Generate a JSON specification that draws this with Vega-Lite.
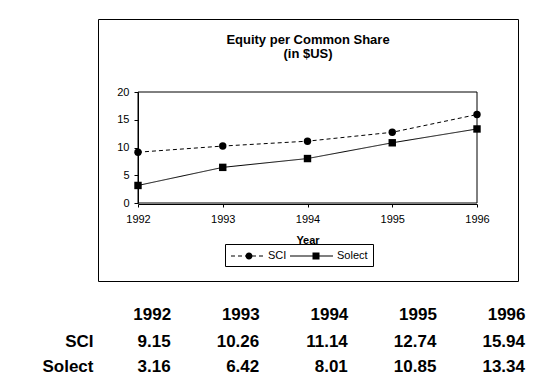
{
  "$schema": "https://vega.github.io/schema/vega-lite/v6.json",
  "background": "white",
  "padding": {"left": 41, "top": 18, "right": 5, "bottom": 0},
  "spacing": 23,
  "datasets": {
    "equity": [
      {"year": 1992, "series": "SCI", "value": 9.15},
      {"year": 1993, "series": "SCI", "value": 10.26},
      {"year": 1994, "series": "SCI", "value": 11.14},
      {"year": 1995, "series": "SCI", "value": 12.74},
      {"year": 1996, "series": "SCI", "value": 15.94},
      {"year": 1992, "series": "Solect", "value": 3.16},
      {"year": 1993, "series": "Solect", "value": 6.42},
      {"year": 1994, "series": "Solect", "value": 8.01},
      {"year": 1995, "series": "Solect", "value": 10.85},
      {"year": 1996, "series": "Solect", "value": 13.34}
    ]
  },
  "vconcat": [
    {
      "width": 420,
      "height": 262,
      "view": {"stroke": "black", "strokeWidth": 1, "fill": "white"},
      "title": {
        "text": ["Equity per Common Share", "(in $US)"],
        "anchor": "middle",
        "frame": "group",
        "offset": -42,
        "font": "Liberation Sans",
        "fontSize": 13,
        "fontWeight": "bold",
        "color": "black",
        "lineHeight": 14
      },
      "data": {"name": "equity"},
      "encoding": {
        "x": {
          "field": "year",
          "type": "quantitative",
          "scale": {"domain": [1992, 1996], "range": [40, 379]},
          "axis": {
            "orient": "bottom",
            "offset": -77,
            "values": [1992, 1993, 1994, 1995, 1996],
            "format": "d",
            "labelFlush": false,
            "labelOverlap": false,
            "tickSize": 3,
            "labelPadding": 6,
            "labelFont": "Liberation Sans",
            "labelFontSize": 11,
            "labelColor": "black",
            "tickColor": "black",
            "domainColor": "black",
            "grid": false,
            "title": "Year",
            "titleFont": "Liberation Sans",
            "titleFontSize": 11,
            "titleFontWeight": "bold",
            "titleColor": "black",
            "titlePadding": 10
          }
        },
        "y": {
          "field": "value",
          "type": "quantitative",
          "scale": {"domain": [0, 20], "range": [184, 73]},
          "axis": {
            "orient": "left",
            "offset": -40,
            "values": [0, 5, 10, 15, 20],
            "tickSize": 4,
            "labelPadding": 5,
            "labelFont": "Liberation Sans",
            "labelFontSize": 11,
            "labelColor": "black",
            "tickColor": "black",
            "domainColor": "black",
            "grid": false,
            "title": null
          }
        }
      },
      "layer": [
        {
          "data": {"values": [{"year": 1992, "year2": 1996, "value": 0, "value2": 20}]},
          "mark": {"type": "rect", "filled": false, "color": "black", "stroke": "black", "strokeWidth": 1},
          "encoding": {
            "x2": {"field": "year2"},
            "y2": {"field": "value2"}
          }
        },
        {
          "mark": {"type": "line", "color": "black", "strokeWidth": 1},
          "encoding": {
            "strokeDash": {
              "field": "series",
              "type": "nominal",
              "scale": {"domain": ["SCI", "Solect"], "range": [[4, 3], [1, 0]]},
              "legend": null
            }
          }
        },
        {
          "mark": {"type": "point", "filled": true, "color": "black", "size": 55, "opacity": 1},
          "encoding": {
            "shape": {
              "field": "series",
              "type": "nominal",
              "scale": {"domain": ["SCI", "Solect"], "range": ["circle", "square"]},
              "legend": null
            }
          }
        },
        {
          "transform": [{"filter": "false"}],
          "mark": {"type": "point", "filled": true, "color": "black", "opacity": 1},
          "encoding": {
            "shape": {
              "field": "series",
              "type": "nominal",
              "scale": {
                "domain": ["SCI", "Solect"],
                "range": [
                  "M-0.857,-0.071H-0.286V0.071H-0.857ZM0.143,-0.071H0.714V0.071H0.143ZM1.143,-0.071H1.714V0.071H1.143ZM2.143,-0.071H2.714V0.071H2.143ZM3.143,-0.071H3.714V0.071H3.143ZM1.214,0A0.5,0.5 0 1,1 2.214,0A0.5,0.5 0 1,1 1.214,0Z",
                  "M-2.286,-0.071H3.857V0.071H-2.286ZM0.929,-0.5H1.929V0.5H0.929Z"
                ]
              },
              "legend": {
                "orient": "none",
                "legendX": 127,
                "legendY": 225,
                "direction": "horizontal",
                "columns": 2,
                "gridAlign": "none",
                "title": null,
                "padding": 5,
                "strokeColor": "black",
                "fillColor": "white",
                "symbolSize": 196,
                "symbolFillColor": "black",
                "symbolStrokeColor": "black",
                "symbolStrokeWidth": 0,
                "symbolOpacity": 1,
                "labelOffset": 24,
                "columnPadding": 2,
                "rowPadding": 0,
                "labelFont": "Liberation Sans",
                "labelFontSize": 11,
                "labelColor": "black",
                "encode": {
                  "symbols": {
                    "update": {
                      "fill": {"value": "black"},
                      "fillOpacity": {"value": 1},
                      "strokeWidth": {"value": 0},
                      "opacity": {"value": 1}
                    }
                  }
                }
              }
            }
          }
        }
      ],
      "resolve": {"scale": {"shape": "independent"}}
    },
    {
      "width": 427,
      "height": 50,
      "view": {"stroke": null},
      "data": {"name": "equity"},
      "mark": {
        "type": "text",
        "align": "right",
        "baseline": "middle",
        "font": "Liberation Sans",
        "fontSize": 17,
        "fontWeight": "bold",
        "color": "black"
      },
      "encoding": {
        "x": {
          "field": "year",
          "type": "ordinal",
          "scale": {"type": "point", "padding": 0.41, "align": 1},
          "axis": {
            "orient": "top",
            "domain": false,
            "ticks": false,
            "tickSize": 0,
            "labelAngle": 0,
            "labelAlign": "right",
            "labelBaseline": "alphabetic",
            "labelPadding": 10,
            "labelFont": "Liberation Sans",
            "labelFontSize": 17,
            "labelFontWeight": "bold",
            "labelColor": "black",
            "grid": false,
            "title": null
          }
        },
        "y": {
          "field": "series",
          "type": "nominal",
          "scale": {"type": "point", "padding": 0.5, "domain": ["SCI", "Solect"]},
          "axis": {
            "domain": false,
            "ticks": false,
            "tickSize": 0,
            "labelPadding": 5,
            "labelFont": "Liberation Sans",
            "labelFontSize": 17,
            "labelFontWeight": "bold",
            "labelColor": "black",
            "grid": false,
            "title": null
          }
        },
        "text": {"field": "value", "type": "quantitative", "format": ".2f"}
      }
    }
  ]
}
